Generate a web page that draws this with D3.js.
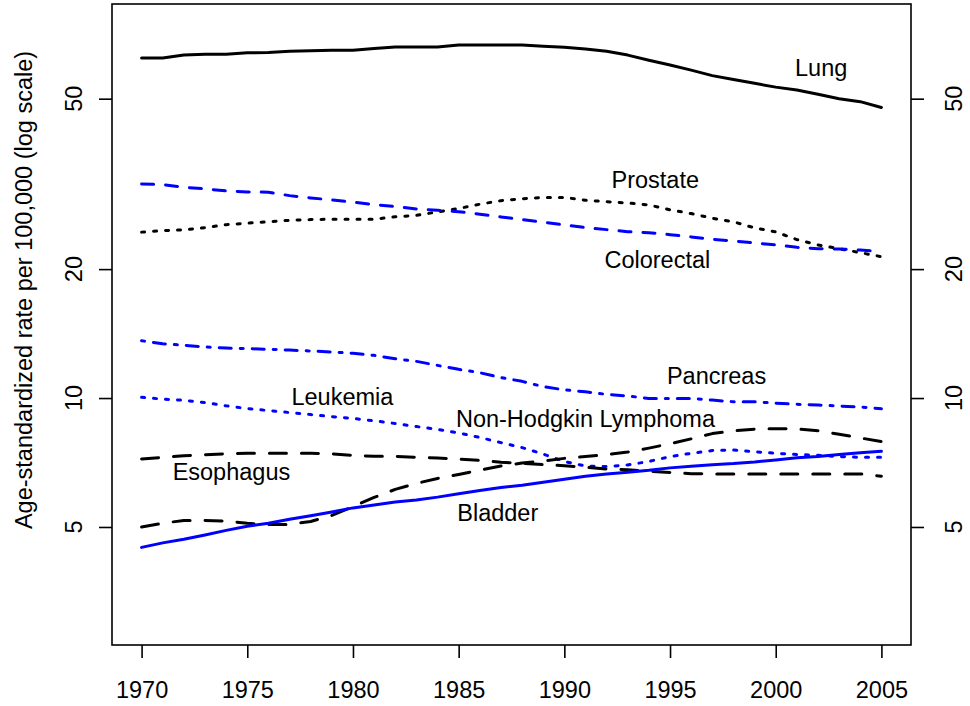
<!DOCTYPE html>
<html><head>
<meta charset="utf-8">
<title>Cancer mortality trends</title>
<script src="https://d3js.org/d3.v7.min.js"></script>
<style>
  body { margin: 0; background: #fff; }
  svg text { font-family: "Liberation Sans", Arial, Helvetica, sans-serif; font-size: 23.5px; fill: #000; }
  .axis line { stroke: #000; stroke-width: 1.6px; }
  .axis .domain { display: none; }
</style>
</head>
<body>
<svg id="chart" width="970" height="706"></svg>
<script>
  // ---- data, one value per year 1970..2005
  const years = d3.range(1970, 2006);

  const lung = [62.2, 62.2, 63.2, 63.5, 63.5, 64.0, 64.1, 64.5, 64.7, 64.9,
                64.9, 65.5, 66.0, 66.0, 66.0, 66.7, 66.7, 66.7, 66.7, 66.3,
                65.9, 65.3, 64.5, 63.2, 61.5, 59.9, 58.3, 56.6, 55.4, 54.3,
                53.2, 52.4, 51.2, 50.0, 49.2, 47.7];
  const prostate = [24.4, 24.6, 24.7, 25.0, 25.4, 25.6, 25.8, 26.0, 26.1, 26.15,
                    26.15, 26.15, 26.5, 26.7, 27.2, 27.7, 28.35, 28.9, 29.2, 29.4,
                    29.4, 28.96, 28.74, 28.54, 28.24, 27.5, 26.96, 26.3, 25.8, 24.96,
                    24.43, 23.44, 22.78, 22.32, 21.85, 21.38];
  const colorectal = [31.6, 31.5, 31.07, 30.78, 30.45, 30.29, 30.24, 29.69, 29.33, 29.01,
                      28.66, 28.29, 27.99, 27.64, 27.45, 27.24, 26.87, 26.48, 26.1, 25.74,
                      25.37, 25.0, 24.73, 24.46, 24.33, 24.07, 23.78, 23.48, 23.27, 23.02,
                      22.78, 22.49, 22.32, 22.28, 22.16, 21.96];
  const pancreas = [13.61, 13.39, 13.28, 13.16, 13.09, 13.04, 13.0, 12.94, 12.88, 12.81,
                    12.72, 12.58, 12.35, 12.18, 11.92, 11.67, 11.46, 11.16, 10.94, 10.63,
                    10.45, 10.34, 10.2, 10.11, 9.98, 9.98, 9.98, 9.89, 9.8, 9.8,
                    9.73, 9.67, 9.63, 9.58, 9.53, 9.44];
  const leukemia = [10.04, 9.94, 9.88, 9.76, 9.59, 9.45, 9.35, 9.25, 9.15, 9.05,
                    8.96, 8.85, 8.72, 8.58, 8.45, 8.29, 8.09, 7.87, 7.66, 7.40,
                    7.11, 6.94, 6.92, 6.98, 7.11, 7.30, 7.43, 7.54, 7.56, 7.49,
                    7.43, 7.38, 7.35, 7.30, 7.27, 7.27];
  const esophagus = [7.21, 7.27, 7.33, 7.37, 7.41, 7.43, 7.43, 7.43, 7.43, 7.41,
                     7.35, 7.31, 7.31, 7.27, 7.24, 7.20, 7.15, 7.08, 7.04, 6.99,
                     6.95, 6.89, 6.83, 6.80, 6.75, 6.70, 6.66, 6.65, 6.65, 6.65,
                     6.65, 6.65, 6.65, 6.65, 6.65, 6.57];
  const nhl = [5.00, 5.10, 5.18, 5.18, 5.16, 5.10, 5.07, 5.07, 5.15, 5.32,
               5.58, 5.86, 6.12, 6.32, 6.49, 6.63, 6.79, 6.94, 7.05, 7.13,
               7.23, 7.30, 7.38, 7.48, 7.64, 7.82, 8.03, 8.26, 8.38, 8.46,
               8.48, 8.47, 8.39, 8.23, 8.07, 7.91];
  const bladder = [4.48, 4.59, 4.68, 4.79, 4.91, 5.02, 5.10, 5.21, 5.31, 5.42,
                   5.54, 5.63, 5.72, 5.78, 5.87, 5.98, 6.08, 6.18, 6.26, 6.36,
                   6.46, 6.57, 6.65, 6.71, 6.78, 6.87, 6.93, 6.99, 7.03, 7.09,
                   7.17, 7.25, 7.30, 7.38, 7.45, 7.51];

  const xTicks = [1970, 1975, 1980, 1985, 1990, 1995, 2000, 2005];
  const yTicks = [5, 10, 20, 50];
  const yTitle = "Age-standardized rate per 100,000 (log scale)";

  // label text with the (year, rate) spot where R's text() centred it
  const labelNames = ["Lung", "Prostate", "Colorectal", "Pancreas", "Leukemia",
                      "Non-Hodgkin Lymphoma", "Esophagus", "Bladder"];
  const labelYears = [2002.15, 1994.3, 1994.4, 1997.2, 1979.5, 1991.0, 1974.25, 1986.85];
  const labelRates = [59.0, 32.3, 21.0, 11.3, 10.07, 8.98, 6.75, 5.39];

  // ---- line styles (R: lwd 3, lty solid / 44 / 13 / 1343 / long dash)
  const series = [
    { values: lung,       color: "#000", dash: null },
    { values: prostate,   color: "#000", dash: "3,9" },
    { values: colorectal, color: "#00f", dash: "12,12" },
    { values: pancreas,   color: "#00f", dash: "3,9,12,9" },
    { values: leukemia,   color: "#00f", dash: "3,9" },
    { values: esophagus,  color: "#000", dash: "17,15" },
    { values: nhl,        color: "#000", dash: "17,15" },
    { values: bladder,    color: "#00f", dash: null }
  ];

  // ---- svg and margins
  const svg = d3.select("svg#chart");
  const width = svg.attr("width");
  const height = svg.attr("height");
  const margins = {"top": 4, "right": 59, "bottom": 61, "left": 112};
  const chartWidth = width - margins.left - margins.right;
  const chartHeight = height - margins.top - margins.bottom;

  const plot = svg.append("g")
    .attr("transform", "translate(" + margins.left + "," + margins.top + ")");

  // R pads the axis range by 4% on each side
  const xScale = d3.scaleLinear().domain([1968.6, 2006.4]).range([0, chartWidth]);
  const yScale = d3.scaleLog().domain([2.651, 83.18]).range([chartHeight, 0]);

  // ---- lines
  const line = d3.line()
    .x((d, i) => xScale(years[i]))
    .y(d => yScale(d));

  series.forEach(s => {
    plot.append("path")
      .attr("d", line(s.values))
      .attr("fill", "none")
      .attr("stroke", s.color)
      .attr("stroke-width", 3)
      .attr("stroke-linecap", "round")
      .attr("stroke-linejoin", "round")
      .attr("stroke-dasharray", s.dash);
  });

  // ---- labels
  labelNames.forEach((name, i) => {
    plot.append("text")
      .attr("x", xScale(labelYears[i]))
      .attr("y", yScale(labelRates[i]))
      .attr("dy", "0.36em")
      .attr("text-anchor", "middle")
      .text(name);
  });

  // ---- box
  plot.append("rect")
    .attr("x", 0).attr("y", 0)
    .attr("width", chartWidth).attr("height", chartHeight)
    .attr("fill", "none")
    .attr("stroke", "#000")
    .attr("stroke-width", 1.6);

  // ---- axes
  const bottomAxis = d3.axisBottom(xScale).tickValues(xTicks)
    .tickFormat(d3.format("d")).tickSize(13).tickSizeOuter(0).tickPadding(23);
  plot.append("g")
    .attr("class", "x axis")
    .attr("transform", "translate(0," + chartHeight + ")")
    .call(bottomAxis);
  plot.select(".x.axis").attr("font-size", null).attr("font-family", null);

  const leftAxis = d3.axisLeft(yScale).tickValues(yTicks).tickFormat("").tickSize(13).tickSizeOuter(0);
  plot.append("g").attr("class", "y axis").call(leftAxis);

  const rightAxis = d3.axisRight(yScale).tickValues(yTicks).tickFormat("").tickSize(13).tickSizeOuter(0);
  plot.append("g").attr("class", "y axis")
    .attr("transform", "translate(" + chartWidth + ",0)")
    .call(rightAxis);

  // rotated tick labels, reading bottom to top like R's las = 0
  yTicks.forEach(v => {
    svg.append("text")
      .attr("transform", "translate(82," + (margins.top + yScale(v)) + ") rotate(-90)")
      .attr("text-anchor", "middle")
      .text(v);
    svg.append("text")
      .attr("transform", "translate(962," + (margins.top + yScale(v)) + ") rotate(-90)")
      .attr("text-anchor", "middle")
      .text(v);
  });

  // y title sits a little above the plot's middle in the reference
  svg.append("text")
    .attr("transform", "translate(32,290) rotate(-90)")
    .attr("text-anchor", "middle")
    .text(yTitle);
</script>
</body>
</html>
